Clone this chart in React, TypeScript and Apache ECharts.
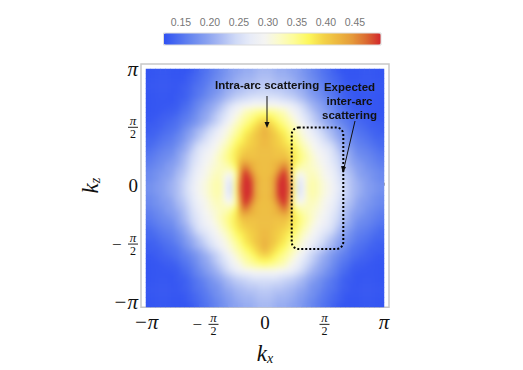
import React, { useEffect, useRef } from "react";
import * as echarts from "echarts";

const PI = Math.PI;
// upper-right quadrant of the map: rows from kz=0 upward, columns from kx=0 rightward
const quadrantRows: number[][] = [
  [.415,.42,.445,.49,.50,.47,.35,.255,.28,.33,.335,.325,.31,.30,.285,.27,.25,.235,.22,.21,.20,.19,.185,.18,.175],
  [.415,.42,.445,.49,.50,.465,.35,.26,.285,.33,.335,.325,.31,.30,.285,.265,.25,.235,.22,.21,.20,.19,.185,.18,.175],
  [.415,.42,.44,.48,.50,.455,.345,.275,.29,.325,.33,.32,.305,.295,.28,.265,.245,.23,.22,.205,.195,.19,.18,.175,.17],
  [.415,.415,.43,.465,.49,.445,.345,.30,.31,.325,.325,.315,.30,.29,.275,.26,.24,.225,.215,.20,.19,.185,.18,.175,.17],
  [.415,.415,.42,.445,.47,.435,.36,.33,.325,.325,.32,.31,.30,.285,.27,.255,.235,.22,.21,.195,.19,.18,.175,.17,.165],
  [.415,.415,.42,.43,.445,.425,.375,.35,.335,.325,.315,.305,.295,.28,.265,.25,.23,.215,.20,.19,.185,.175,.17,.165,.16],
  [.415,.415,.415,.415,.42,.41,.38,.36,.345,.33,.315,.30,.29,.275,.26,.245,.225,.21,.195,.185,.175,.17,.165,.16,.155],
  [.415,.415,.41,.41,.41,.395,.38,.36,.345,.325,.31,.295,.285,.27,.255,.24,.22,.205,.19,.175,.17,.165,.16,.155,.15],
  [.415,.415,.41,.405,.40,.39,.375,.355,.335,.32,.30,.29,.275,.265,.25,.23,.21,.195,.185,.17,.165,.16,.155,.15,.145],
  [.42,.415,.405,.40,.39,.38,.365,.345,.325,.31,.295,.28,.265,.255,.24,.22,.205,.19,.175,.165,.16,.155,.15,.145,.14],
  [.42,.415,.405,.395,.385,.37,.355,.335,.315,.30,.285,.27,.255,.24,.225,.21,.195,.18,.17,.16,.155,.15,.145,.14,.14],
  [.425,.415,.405,.39,.38,.36,.345,.325,.305,.29,.275,.26,.245,.23,.215,.20,.19,.175,.165,.155,.15,.145,.14,.135,.135],
  [.425,.41,.395,.38,.37,.35,.335,.315,.30,.285,.265,.25,.235,.22,.21,.195,.18,.17,.155,.15,.145,.14,.135,.135,.13],
  [.415,.40,.385,.37,.355,.34,.325,.305,.285,.265,.245,.235,.22,.205,.19,.18,.17,.16,.15,.145,.14,.135,.13,.13,.13],
  [.39,.385,.37,.355,.345,.33,.31,.29,.27,.25,.235,.22,.205,.195,.18,.17,.16,.155,.145,.14,.135,.13,.13,.125,.125],
  [.37,.365,.355,.345,.335,.315,.30,.28,.26,.245,.23,.215,.20,.19,.175,.165,.155,.15,.14,.135,.13,.13,.125,.125,.125],
  [.345,.34,.335,.325,.32,.30,.285,.27,.25,.235,.22,.205,.195,.185,.17,.16,.15,.145,.135,.13,.13,.125,.125,.125,.125],
  [.30,.30,.30,.295,.29,.28,.27,.255,.24,.225,.21,.20,.19,.175,.165,.155,.145,.14,.13,.13,.125,.125,.125,.125,.125],
  [.27,.27,.27,.265,.26,.255,.245,.235,.225,.21,.20,.19,.18,.17,.16,.15,.14,.135,.13,.125,.125,.125,.125,.125,.125],
  [.25,.25,.25,.245,.24,.235,.23,.22,.21,.20,.19,.18,.17,.16,.15,.145,.135,.13,.13,.125,.125,.125,.125,.125,.125],
  [.24,.24,.235,.235,.23,.225,.22,.21,.205,.19,.18,.175,.165,.155,.15,.14,.135,.13,.125,.125,.125,.125,.125,.125,.125],
  [.23,.23,.225,.225,.22,.215,.21,.20,.195,.185,.175,.17,.16,.15,.145,.14,.13,.13,.125,.125,.125,.125,.125,.125,.125],
  [.225,.225,.22,.215,.215,.21,.205,.195,.19,.18,.175,.165,.155,.15,.14,.135,.13,.125,.125,.125,.125,.125,.125,.125,.125],
  [.22,.22,.215,.21,.21,.205,.20,.19,.185,.175,.17,.16,.155,.145,.14,.135,.13,.125,.125,.125,.125,.125,.125,.125,.125],
  [.215,.215,.21,.205,.205,.20,.195,.19,.18,.175,.165,.16,.15,.145,.135,.13,.125,.125,.125,.125,.125,.125,.125,.125,.125],
];
const colorStops = ["#2f50f2","#4c6ef0","#6b89ef","#8aa2f0","#adbdf3","#d0daf7","#e8ecf8","#f5f5f2","#fbfbc8","#fdfc98","#fdf85c","#f4d448","#edb840","#e59a3a","#db6a32","#d2262c"];
const colorMin = 0.12;
const colorMax = 0.495;
const colorTickLabels = [0.15, 0.2, 0.25, 0.3, 0.35, 0.4, 0.45];
const colorMinorTicks = [0.13,0.14,0.15,0.16,0.17,0.18,0.19,0.2,0.21,0.22,0.23,0.24,0.25,0.26,0.27,0.28,0.29,0.3,0.31,0.32,0.33,0.34,0.35,0.36,0.37,0.38,0.39,0.4,0.41,0.42,0.43,0.44,0.45,0.46,0.47,0.48,0.49];
const piTicks = [-PI, -PI / 2, 0, PI / 2, PI];
const xTickLabels = ["{pi|−π}", "{sp|}{n|π}\n{m|−}{bar|}\n{sp|}{d|2}", "{z|0}", "{n|π}\n{bar|}\n{d|2}", "{pi|π}"];
const yTickLabels = xTickLabels;

const size = quadrantRows.length;
const cats = Array.from({ length: size * 2 - 1 }, (_, i) => String(i));
const heatData: number[][] = [];
cats.forEach((_, yi) => cats.forEach((_, xi) => {
  const r = Math.abs(yi - (size - 1));
  const c = Math.abs(xi - (size - 1));
  heatData.push([xi, yi, quadrantRows[r][c]]);
}));

const serif = "Liberation Serif";
const sans = "Liberation Sans";
const ink = "#111";
const tickRich = {
  pi: { fontFamily: serif, fontStyle: "italic", fontSize: 21, lineHeight: 22, color: ink },
  z: { fontFamily: serif, fontSize: 19, lineHeight: 22, color: ink },
  n: { fontFamily: serif, fontStyle: "italic", fontSize: 13, lineHeight: 12.5, color: ink, align: "center", width: 10 },
  d: { fontFamily: serif, fontSize: 12, lineHeight: 12.5, color: ink, align: "center", width: 10 },
  bar: { width: 10, height: 1, lineHeight: 1, backgroundColor: "#222" },
  m: { fontFamily: serif, fontSize: 17, lineHeight: 1, color: ink, align: "left", width: 16 },
  sp: { width: 16, lineHeight: 12.5 },
};
const labelFor = (labels: string[]) => (v: number) => labels[Math.round(v / (PI / 2)) + 2];
const frameColor = "#c8c8c8";
const pad = (PI * 124) / 119;
const nameRich = {
  k: { fontFamily: serif, fontStyle: "italic", fontSize: 23, color: ink },
  s: { fontFamily: serif, fontStyle: "italic", fontSize: 14, color: ink, verticalAlign: "bottom", padding: [9, 0, 0, 0] },
};

const layer: React.CSSProperties = { position: "fixed", left: 0, top: 0, width: 523, height: 370 };

export default function App() {
  const baseRef = useRef<HTMLDivElement>(null);
  const topRef = useRef<HTMLDivElement>(null);
  useEffect(() => {
    const chart = echarts.init(baseRef.current!, undefined, { renderer: "svg" });
    chart.setOption({
      animation: false,
      backgroundColor: "#fff",
      grid: [
        { left: 146, top: 69, width: 238, height: 238 },
        { left: 141, top: 64, width: 248, height: 248, show: true, borderColor: frameColor, borderWidth: 1.5 },
        { left: 163.5, top: 33, width: 217.5, height: 12 },
      ],
      xAxis: [
        { type: "category", gridIndex: 0, data: cats, show: false },
        {
          type: "value", gridIndex: 1, min: -pad, max: pad, splitLine: { show: false }, axisLine: { show: false },
          axisTick: { show: true, inside: true, length: 3, customValues: piTicks, lineStyle: { color: "#aaa" } },
          axisLabel: { show: true, margin: 4, customValues: piTicks, formatter: labelFor(xTickLabels), rich: tickRich, hideOverlap: false },
          name: "{k|k}{s|x}", nameLocation: "middle", nameGap: 33, nameTextStyle: { rich: nameRich },
        },
        {
          type: "value", gridIndex: 2, min: colorMin, max: colorMax, position: "top", splitLine: { show: false }, axisLine: { show: false },
          axisTick: { show: true, length: 2, customValues: colorMinorTicks, lineStyle: { color: "#ddd" } },
          axisLabel: { show: true, margin: 6, customValues: colorTickLabels, color: "#777", fontFamily: sans, fontSize: 10.5, formatter: (v: number) => v.toFixed(2) },
        },
      ],
      yAxis: [
        { type: "category", gridIndex: 0, data: cats, show: false },
        {
          type: "value", gridIndex: 1, min: -pad, max: pad, splitLine: { show: false }, axisLine: { show: false },
          axisTick: { show: true, inside: true, length: 3, customValues: piTicks, lineStyle: { color: "#aaa" } },
          axisLabel: { show: true, margin: 3, customValues: piTicks, formatter: labelFor(yTickLabels), rich: tickRich, hideOverlap: false },
          name: "{k|k}{s|z}", nameLocation: "middle", nameGap: 39, nameTextStyle: { rich: nameRich },
        },
        { type: "value", gridIndex: 2, show: false, min: 0, max: 1 },
      ],
      visualMap: {
        type: "continuous", seriesIndex: 0, orient: "horizontal", min: colorMin, max: colorMax,
        left: 163.5, top: 33, itemWidth: 12, itemHeight: 217.5, padding: 0, text: null, calculable: false,
        showLabel: false, inRange: { color: colorStops },
      },
      series: [{ type: "heatmap", xAxisIndex: 0, yAxisIndex: 0, data: heatData, progressive: 0, emphasis: { disabled: true } }],
    });
    const top = echarts.init(topRef.current!, undefined, { renderer: "svg" });
    top.setOption({
      animation: false,
      backgroundColor: "transparent",
      graphic: [
        { type: "rect", z: 100, shape: { x: 163.5, y: 33, width: 217.5, height: 12 }, style: { fill: "none", stroke: "#ddd", lineWidth: 1 } },
        { type: "text", z: 100, x: 215, y: 85, style: { text: "Intra-arc scattering", font: `bold 11.5px "${sans}"`, fill: ink, textAlign: "left", textVerticalAlign: "middle" } },
        { type: "text", z: 100, x: 349.5, y: 101, style: { text: "Expected\ninter-arc\nscattering", font: `bold 11.5px "${sans}"`, lineHeight: 14, fill: ink, textAlign: "center", textVerticalAlign: "middle" } },
        { type: "line", z: 100, shape: { x1: 267, y1: 96, x2: 267, y2: 125 }, style: { stroke: ink, lineWidth: 1 } },
        { type: "polygon", z: 100, shape: { points: [[264.5, 122], [269.5, 122], [267, 128]] }, style: { fill: ink } },
        { type: "line", z: 100, shape: { x1: 355, y1: 121, x2: 344, y2: 168 }, style: { stroke: ink, lineWidth: 1 } },
        { type: "polygon", z: 100, shape: { points: [[341, 166], [346, 167], [343, 173]] }, style: { fill: ink } },
        { type: "rect", z: 100, shape: { x: 291.7, y: 127.5, width: 51.6, height: 121.5, r: 7 }, style: { fill: "none", stroke: "#000", lineWidth: 2, lineDash: [2, 2] } },
      ],
    });
    return () => { chart.dispose(); top.dispose(); };
  }, []);
  return (
    <>
      <div ref={baseRef} style={{ ...layer, background: "#fff" }} />
      <div style={{ position: "fixed", left: 146, top: 69, width: 238, height: 238, backdropFilter: "blur(2.6px)", WebkitBackdropFilter: "blur(2.6px)" }} />
      <div ref={topRef} style={{ ...layer, pointerEvents: "none" }} />
    </>
  );
}
